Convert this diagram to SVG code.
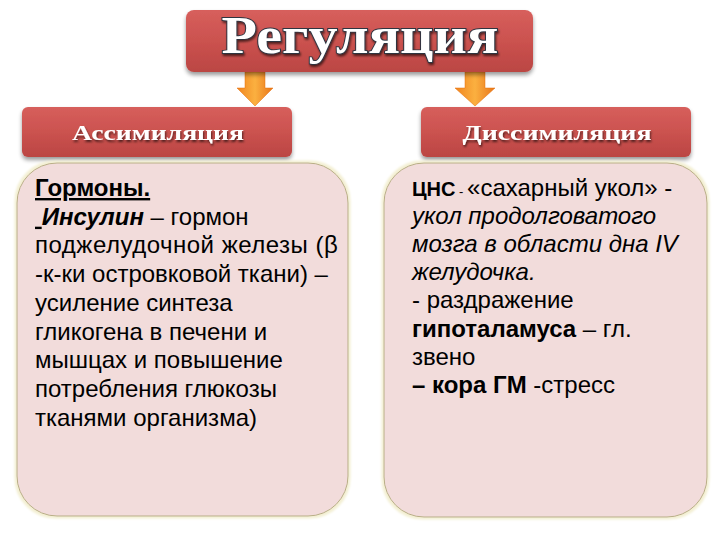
<svg xmlns="http://www.w3.org/2000/svg" width="720" height="540" viewBox="0 0 720 540">
<defs>
<linearGradient id="red" x1="0" y1="0" x2="0" y2="1">
<stop offset="0" stop-color="#d75f5c"/>
<stop offset="0.5" stop-color="#cb524f"/>
<stop offset="1" stop-color="#bb4643"/>
</linearGradient>
<linearGradient id="orange" x1="0" y1="0" x2="1" y2="0">
<stop offset="0" stop-color="#f0851f"/>
<stop offset="0.5" stop-color="#fbb040"/>
<stop offset="1" stop-color="#e8761a"/>
</linearGradient>
<filter id="shadow" x="-10%" y="-20%" width="120%" height="150%">
<feGaussianBlur in="SourceAlpha" stdDeviation="2"/>
<feOffset dx="0" dy="3" result="b"/>
<feComponentTransfer><feFuncA type="linear" slope="0.4"/></feComponentTransfer>
<feMerge><feMergeNode/><feMergeNode in="SourceGraphic"/></feMerge>
</filter>
<filter id="glow" x="-5%" y="-5%" width="110%" height="110%">
<feMorphology in="SourceAlpha" operator="dilate" radius="1.5" result="d"/>
<feGaussianBlur in="d" stdDeviation="1" result="g"/>
<feFlood flood-color="#f3efd2"/>
<feComposite in2="g" operator="in"/>
<feMerge><feMergeNode/><feMergeNode in="SourceGraphic"/></feMerge>
</filter>
<filter id="tshadow" x="-5%" y="-20%" width="110%" height="140%">
<feGaussianBlur in="SourceAlpha" stdDeviation="1"/>
<feOffset dx="1" dy="2"/>
<feComponentTransfer><feFuncA type="linear" slope="0.6"/></feComponentTransfer>
<feMerge><feMergeNode/><feMergeNode in="SourceGraphic"/></feMerge>
</filter>
</defs>
<style>
.redbox{fill:url(#red);filter:url(#shadow)}
.content{fill:#f2dcdb;stroke:#b8ad86;stroke-width:1;filter:url(#glow)}
.arrow{fill:url(#orange);stroke:#e46c0a;stroke-width:0.5}
.title{font-family:"Liberation Serif",serif;font-weight:bold;fill:#ffffff;stroke:#2e3440;stroke-width:1.8;paint-order:stroke;filter:url(#tshadow)}
.head{font-family:"Liberation Serif",serif;font-weight:bold;font-size:22px;fill:#ffffff;filter:url(#tshadow)}
.body{font-family:"Liberation Sans",Arial,sans-serif;font-size:24px;fill:#000000}
.b{font-weight:bold}
.i{font-style:italic}
</style>

<g id="connectors">
<path class="arrow" d="M245,72 H265 V88 H273 L255,106 L237,88 H245 Z"/>
<path class="arrow" d="M465,72 H485 V88 H495 L475,106 L455,88 H465 Z"/>
</g>

<g id="regulation">
<rect class="redbox" x="186" y="10" width="347" height="62" rx="8"/>
<text class="title" x="360" y="53" font-size="52" text-anchor="middle" textLength="277" lengthAdjust="spacingAndGlyphs">Регуляция</text>
</g>

<g id="assimilation-header">
<rect class="redbox" x="22" y="107" width="270" height="50" rx="6"/>
<text class="head" x="158" y="140" text-anchor="middle" textLength="172" lengthAdjust="spacingAndGlyphs">Ассимиляция</text>
</g>

<g id="dissimilation-header">
<rect class="redbox" x="421" y="107" width="270" height="50" rx="6"/>
<text class="head" x="557" y="140" text-anchor="middle" textLength="189" lengthAdjust="spacingAndGlyphs">Диссимиляция</text>
</g>

<g id="assimilation-content">
<rect class="content" x="17" y="163" width="331" height="353" rx="40"/>
<text class="body" x="35" y="196"><tspan class="b" text-decoration="underline">Гормоны.</tspan></text>
<text class="body" x="35" y="224.7"><tspan text-decoration="underline">&#160;</tspan><tspan class="b i">Инсулин</tspan> – гормон</text>
<text class="body" x="35" y="253.4" letter-spacing="0.5">поджелудочной железы (β</text>
<text class="body" x="35" y="282.1">-к-ки островковой ткани) –</text>
<text class="body" x="35" y="310.8">усиление синтеза</text>
<text class="body" x="35" y="339.5">гликогена в печени и</text>
<text class="body" x="35" y="368.2">мышцах и повышение</text>
<text class="body" x="35" y="396.9">потребления глюкозы</text>
<text class="body" x="35" y="425.6">тканями организма)</text>
</g>

<g id="dissimilation-content">
<rect class="content" x="384" y="163" width="323" height="354" rx="40"/>
<text class="body" x="412" y="196"><tspan class="b" font-size="20">ЦНС</tspan><tspan font-size="13"> - </tspan>«сахарный укол» -</text>
<text class="body i" x="412" y="224.1">укол продолговатого</text>
<text class="body i" x="412" y="252.2">мозга в области дна IV</text>
<text class="body i" x="412" y="280.3">желудочка.</text>
<text class="body" x="412" y="308.4">- раздражение</text>
<text class="body" x="412" y="336.5"><tspan class="b">гипоталамуса</tspan> – гл.</text>
<text class="body" x="412" y="364.6">звено</text>
<text class="body" x="412" y="392.7"><tspan class="b">– кора ГМ</tspan> -стресс</text>
</g>
</svg>
